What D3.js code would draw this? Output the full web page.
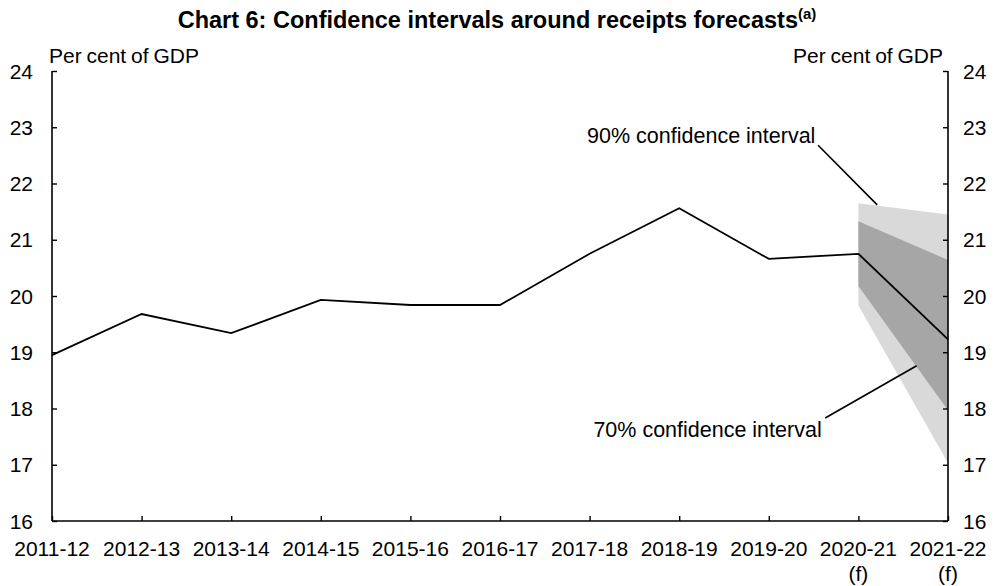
<!DOCTYPE html>
<html><head><meta charset="utf-8">
<script src="https://cdn.jsdelivr.net/npm/d3@7"></script>
<style>
html,body{margin:0;padding:0;background:#fff;}
svg{display:block;font-family:"Liberation Sans",Arial,sans-serif;}
</style></head>
<body><svg id="c" width="995" height="586"></svg>
<script>
const categories = ["2011-12","2012-13","2013-14","2014-15","2015-16","2016-17","2017-18","2018-19","2019-20","2020-21","2021-22"];
const subLabels = ["","","","","","","","","","(f)","(f)"];
const receipts = [18.95,19.68,19.34,19.93,19.84,19.84,20.75,21.56,20.66,20.75,19.23];
const bandCategories = ["2020-21","2021-22"];
const ci90Upper = [21.65,21.45];
const ci90Lower = [19.83,17.03];
const ci70Upper = [21.33,20.64];
const ci70Lower = [20.18,17.97];
const yTicks = [16,17,18,19,20,21,22,23,24];
const title = "Chart 6: Confidence intervals around receipts forecasts";
const titleSup = "(a)";
const yTitle = "Per cent of GDP";
const note90 = "90% confidence interval";
const note70 = "70% confidence interval";

const svg = d3.select("#c");
const L = 52, R = 948, T = 71, B = 521;
const x = d3.scaleLinear().domain([0, categories.length - 1]).range([L, R]);
const y = d3.scaleLinear().domain([16, 24]).range([B, T]);
const FS = 21;

// title
const tt = svg.append("text").attr("x", 497).attr("y", 28).attr("text-anchor", "middle")
  .attr("font-weight", "bold").attr("font-size", 23.5).attr("fill", "#000");
tt.append("tspan").text(title);
tt.append("tspan").attr("font-size", 15).attr("dy", -9).text(titleSup);

// bands
const bandIdx = bandCategories.map(c => categories.indexOf(c));
const band = (up, lo) => d3.area().x((d, i) => x(bandIdx[i])).y0((d, i) => y(lo[i])).y1((d, i) => y(up[i]))(bandIdx);
svg.append("path").attr("d", band(ci90Upper, ci90Lower)).attr("fill", "#d9d9d9");
svg.append("path").attr("d", band(ci70Upper, ci70Lower)).attr("fill", "#a6a6a6");

// axes
const yl = svg.append("g").attr("transform", `translate(${L},0)`)
  .call(d3.axisRight(y).tickValues(yTicks).tickSize(5).tickFormat(""));
const yr = svg.append("g").attr("transform", `translate(${R},0)`)
  .call(d3.axisLeft(y).tickValues(yTicks).tickSize(5).tickFormat(""));
const xa = svg.append("g").attr("transform", `translate(0,${B})`)
  .call(d3.axisTop(x).tickValues(d3.range(categories.length)).tickSize(5).tickFormat(""));
[yl, yr, xa].forEach(g => {
  g.select(".domain").attr("stroke", "#000").attr("stroke-width", 1.6);
  g.selectAll(".tick line").attr("stroke", "#000").attr("stroke-width", 1.4);
});
yl.select(".domain").attr("d", `M0,${T}V${B}`);
yr.select(".domain").attr("d", `M0,${T}V${B}`);
xa.select(".domain").attr("d", `M${L},0H${R}`);

// y tick labels
yTicks.forEach(v => {
  svg.append("text").attr("x", 33).attr("y", y(v) + 7.5).attr("text-anchor", "end")
    .attr("font-size", FS).text(v);
  svg.append("text").attr("x", 963).attr("y", y(v) + 7.5).attr("text-anchor", "start")
    .attr("font-size", FS).text(v);
});
// x tick labels
categories.forEach((c, i) => {
  svg.append("text").attr("x", x(i)).attr("y", 556).attr("text-anchor", "middle")
    .attr("font-size", FS).text(c);
  if (subLabels[i]) svg.append("text").attr("x", x(i)).attr("y", 581).attr("text-anchor", "middle")
    .attr("font-size", FS).text(subLabels[i]);
});
// axis titles
svg.append("text").attr("x", 49).attr("y", 63).attr("font-size", FS).attr("word-spacing", -1).text(yTitle);
svg.append("text").attr("x", 943).attr("y", 63).attr("text-anchor", "end").attr("font-size", FS).attr("word-spacing", -1).text(yTitle);

// line
svg.append("path").datum(receipts)
  .attr("d", d3.line().x((d, i) => x(i)).y(d => y(d)))
  .attr("fill", "none").attr("stroke", "#000").attr("stroke-width", 1.8);

// annotations (in data units: category index, value)
const leaders = [
  {from: [8.55, 22.68], to: [9.21, 21.62]},
  {from: [8.63, 17.83], to: [9.65, 18.76]}
];
leaders.forEach(l => svg.append("line")
  .attr("x1", x(l.from[0])).attr("y1", y(l.from[1]))
  .attr("x2", x(l.to[0])).attr("y2", y(l.to[1]))
  .attr("stroke", "#000").attr("stroke-width", 1.6));
svg.append("text").attr("x", x(8.52)).attr("y", y(22.72)).attr("text-anchor", "end")
  .attr("font-size", 21.5).text(note90);
svg.append("text").attr("x", x(8.59)).attr("y", y(17.49)).attr("text-anchor", "end")
  .attr("font-size", 21.5).text(note70);
</script></body></html>
